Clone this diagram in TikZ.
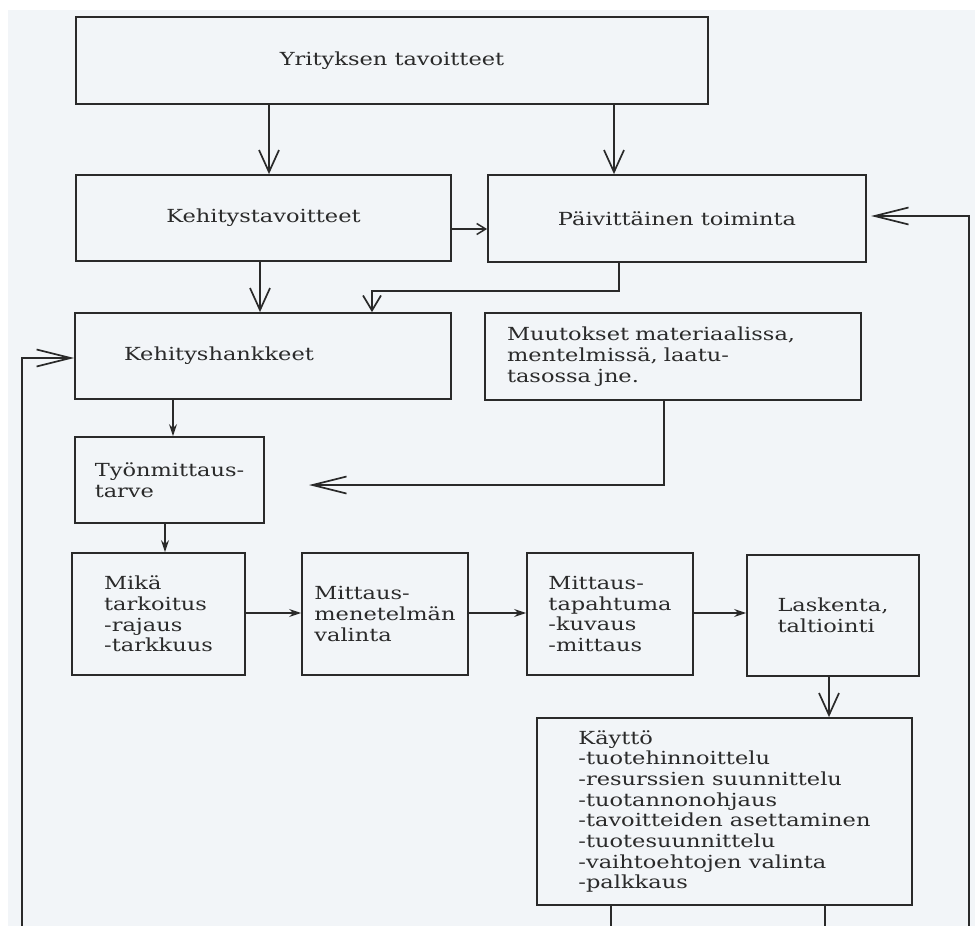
\documentclass[tikz,border=0pt]{standalone}
\usepackage{fontspec}
\setmainfont{DejaVu Serif}[FakeStretch=1.25]
\usetikzlibrary{arrows.meta}
\definecolor{paper}{HTML}{F2F5F8}
\definecolor{ink}{HTML}{2A2A2A}
\tikzset{
  box/.style={draw=ink, line width=1.8pt, rectangle, inner sep=0pt, align=left,
    font=\fontsize{18}{20.7}\selectfont, text=ink},
  conn/.style={draw=ink, line width=1.7pt},
  openv/.style={conn, -{Straight Barb[length=22pt,width=20pt,line width=1.7pt]}},
  openm/.style={conn, -{Straight Barb[length=15pt,width=18pt,line width=1.7pt]}},
  openh/.style={conn, -{Straight Barb[length=34pt,width=17pt,line width=1.7pt]}},
  opens/.style={conn, -{Straight Barb[length=9pt,width=11pt,line width=1.5pt]}},
  filled/.style={conn, -{Stealth[length=12pt,width=8pt]}},
}
\begin{document}
\begin{tikzpicture}[x=1pt,y=-1pt]
\useasboundingbox (0,0) rectangle (975,926);
\fill[white] (0,0) rectangle (975,926);
\fill[paper] (8,10) rectangle (975,926);

% boxes
\node[box, minimum width=632, minimum height=87] (yri) at (392,60.5) {Yrityksen tavoitteet};
\node[box, minimum width=375, minimum height=86] (keh) at (263.5,218) {Kehitystavoitteet};
\node[box, minimum width=378, minimum height=87] (pai) at (677,218.5) {Päivittäinen toiminta};
\node[box, minimum width=376, minimum height=86, text width=278, inner xsep=49] (han) at (263,356) {Kehityshankkeet};
\node[box, minimum width=376, minimum height=87, text width=332, inner xsep=22] (muu) at (673,356.5) {Muutokset materiaalissa,\\mentelmissä, laatu-\\tasossa jne.};
\node[box, minimum width=189, minimum height=86] (tyo) at (169.5,480) {Työnmittaus-\\tarve};
\node[box, minimum width=173, minimum height=122] (mik) at (158.5,614) {Mikä\\tarkoitus\\-rajaus\\-tarkkuus};
\node[box, minimum width=166, minimum height=122] (met) at (385,614) {Mittaus-\\menetelmän\\valinta};
\node[box, minimum width=166, minimum height=122] (tap) at (610,614) {Mittaus-\\tapahtuma\\-kuvaus\\-mittaus};
\node[box, minimum width=172, minimum height=121] (las) at (833,615.5) {Laskenta,\\taltiointi};
\node[box, minimum width=375, minimum height=187] (kay) at (724.5,811.5) {Käyttö\\-tuotehinnoittelu\\-resurssien suunnittelu\\-tuotannonohjaus\\-tavoitteiden asettaminen\\-tuotesuunnittelu\\-vaihtoehtojen valinta\\-palkkaus};

% helper coordinates
\coordinate (x269) at (269,0);
\coordinate (x614) at (614,0);
\coordinate (y229) at (0,229);
\coordinate (x260) at (260,0);
\coordinate (x619) at (619,0);
\coordinate (x372) at (372,0);
\coordinate (x173) at (173,0);
\coordinate (x664) at (664,0);
\coordinate (t311) at (309,485);
\coordinate (x165) at (165,0);
\coordinate (y613) at (0,613);
\coordinate (x829) at (829,0);
\coordinate (b1) at (611,926);
\coordinate (b2) at (825,926);
\coordinate (x611) at (611,0);
\coordinate (x825) at (825,0);
\coordinate (lb) at (22,926);
\coordinate (y358) at (0,358);
\coordinate (rb) at (969,926);
\coordinate (rt) at (871,216);

% connectors
\draw[openv] (yri.south -| x269) -- (keh.north -| x269);
\draw[openv] (yri.south -| x614) -- (pai.north -| x614);
\draw[opens] (keh.east |- y229) -- (pai.west |- y229);
\draw[openv] (keh.south -| x260) -- (han.north -| x260);
\draw[openm] (pai.south -| x619) -- ++(0,28) -| (han.north -| x372);
\draw[filled] (han.south -| x173) -- (tyo.north -| x173);
\draw[openh] (muu.south -| x664) |- (t311);
\draw[filled] (tyo.south -| x165) -- (mik.north -| x165);
\draw[filled] (mik.east |- y613) -- (met.west |- y613);
\draw[filled] (met.east |- y613) -- (tap.west |- y613);
\draw[filled] (tap.east |- y613) -- (las.west |- y613);
\draw[openv] (las.south -| x829) -- (kay.north -| x829);
\draw[conn] (kay.south -| x611) -- (b1);
\draw[conn] (kay.south -| x825) -- (b2);
\draw[openh] (lb) |- (han.west |- y358);
\draw[openh] (rb) |- (rt);
\end{tikzpicture}
\end{document}
